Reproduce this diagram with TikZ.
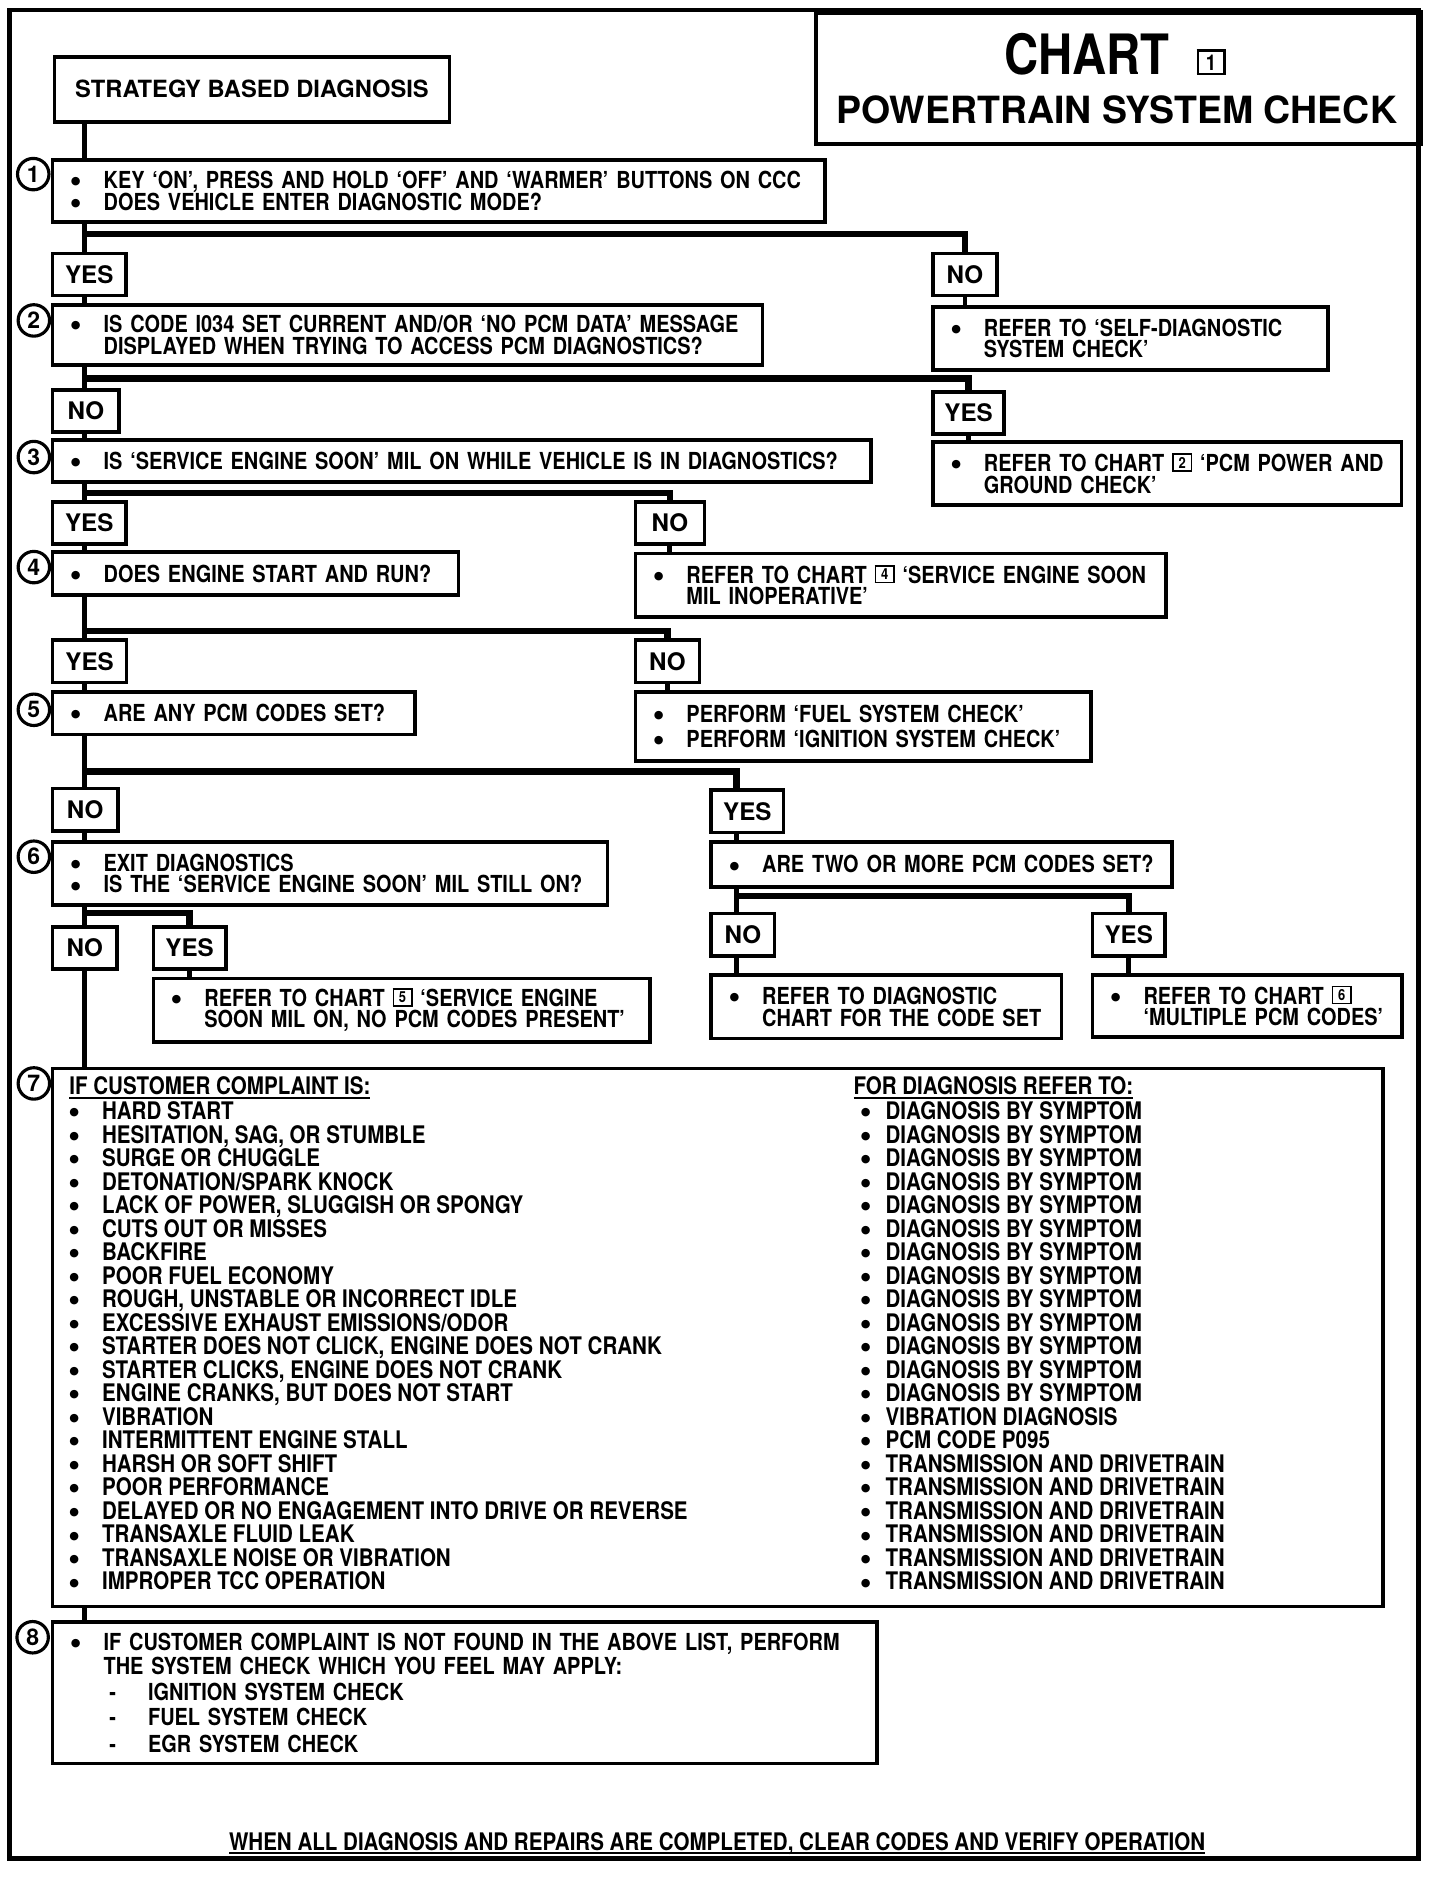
\documentclass[tikz,border=0pt]{standalone}
\usepackage{fontspec}
\setmainfont{TeX Gyre Heros}[FakeStretch=0.85]
\newfontfamily\widefont{TeX Gyre Heros}
\newfontfamily\symfont{DejaVu Sans}
\hyphenpenalty=10000
\exhyphenpenalty=10000
\newcommand\bdot{\raisebox{1.6pt}{\symfont\fontsize{4.6}{4.6}\selectfont ●}}
\newcommand\bul{\hspace*{2.6pt}\makebox[13.5pt][l]{\bdot}}
\newcommand\itm[1][13.5pt]{\makebox[#1][l]{\bdot}}
\newcommand\ind{\hspace*{16.1pt}}
\newcommand\dsh{\hspace*{18.5pt}\makebox[16pt][l]{-}}
\newcommand\chartno[1]{\raisebox{1.4pt}{\fboxsep=0.9pt\fboxrule=0.6pt\fbox{\makebox[5.3pt]{\fontsize{6.3}{6.3}\selectfont #1}}}}
\newcommand\titleno[1]{\raisebox{2pt}{\fboxsep=1.3pt\fboxrule=0.9pt\fbox{\makebox[7.6pt]{\fontsize{9}{9}\selectfont #1}}}}
\newcommand\ulin[1]{\sbox0{#1}\rlap{\rule[-1.8pt]{\wd0}{0.9pt}}\usebox0}
\usetikzlibrary{positioning}
\tikzset{
  every node/.style={font=\bfseries\fontsize{9.7}{9}\selectfont},
  stepbox/.style={draw, line width=1.5pt, inner xsep=5pt, inner ysep=0pt, anchor=north west, align=left},
  answer/.style={draw, line width=1.5pt, inner sep=0pt, minimum height=17.5pt, anchor=north west, font=\widefont\bfseries\fontsize{10}{10}\selectfont},
  stepno/.style={draw, circle, line width=1.3pt, inner sep=0pt, minimum size=13pt, font=\widefont\bfseries\fontsize{9.5}{9.5}\selectfont},
  listtext/.style={inner sep=0pt, anchor=north west, align=left, font=\bfseries\fontsize{10}{9.725}\selectfont},
  mainline/.style={line width=2pt},
  forkline/.style={line width=2.6pt}
}
\begin{document}
\begin{tikzpicture}[x=0.5pt,y=-0.5pt]
\useasboundingbox (0,0) rectangle (1191,1568);
\draw[line width=1.8pt] (8,8.5) rectangle (1173,1537);

\node[draw, line width=1.8pt, anchor=north west, minimum width=250pt, minimum height=54.3pt] (tbox) at (673,8.5) {};
\node[anchor=base, font=\bfseries\fontsize{23}{23}\selectfont] (chart) at (922,62) {CHART\hspace{11pt}\titleno{1}};
\node[anchor=base, font=\widefont\bfseries\fontsize{15.5}{15.5}\selectfont] (ptsc) at (923.5,102) {POWERTRAIN SYSTEM CHECK};

\node[stepbox, align=center, minimum width=163.2pt, minimum height=26.9pt, font=\widefont\bfseries\fontsize{9.8}{9.8}\selectfont] (sbd) at (43.7,45.5) {STRATEGY BASED DIAGNOSIS};

\node[stepbox, minimum width=319.4pt, text width=309.4pt, minimum height=25.5pt] (s1) at (42,131) {\bul KEY `ON', PRESS AND HOLD `OFF' AND `WARMER' BUTTONS ON~CCC\\\bul DOES VEHICLE ENTER DIAGNOSTIC MODE?};
\node[stepbox, minimum width=293.5pt, text width=283.5pt, minimum height=24.8pt] (s2) at (42,250.9) {\bul IS CODE I034 SET CURRENT AND/OR `NO PCM DATA'~MESSAGE\\\ind DISPLAYED WHEN TRYING TO ACCESS PCM DIAGNOSTICS?};
\node[stepbox, minimum width=338.4pt, text width=328.4pt, minimum height=17.25pt] (s3) at (42,362.5) {\bul IS `SERVICE ENGINE SOON' MIL ON WHILE VEHICLE IS IN~DIAGNOSTICS?};
\node[stepbox, minimum width=167.9pt, text width=157.9pt, minimum height=17.85pt] (s4) at (42,455) {\bul DOES ENGINE START AND~RUN?};
\node[stepbox, minimum width=149.85pt, text width=139.85pt, minimum height=17.65pt] (s5) at (42,570.7) {\bul ARE ANY PCM CODES SET?};
\node[stepbox, minimum width=229.5pt, text width=219.5pt, minimum height=26.15pt] (s6) at (42,694.7) {\bul EXIT DIAGNOSTICS\\\bul IS THE `SERVICE ENGINE SOON' MIL STILL~ON?};
\node[stepbox, minimum width=550.1pt, minimum height=222.5pt] (s7) at (42,882) {};
\node[stepbox, minimum width=341pt, text width=331pt, minimum height=58.65pt, font=\bfseries\fontsize{9.7}{8.3}\selectfont] (s8) at (42,1339.7) {\bul IF CUSTOMER COMPLAINT IS NOT FOUND IN THE ABOVE LIST,~PERFORM\\\ind THE SYSTEM CHECK WHICH YOU FEEL MAY APPLY:\\[2.7pt]\dsh IGNITION SYSTEM CHECK\\[2.05pt]\dsh FUEL SYSTEM CHECK\\[2.7pt]\dsh EGR SYSTEM CHECK};

\node[stepbox, minimum width=163.3pt, text width=153.3pt, minimum height=26.2pt] (r1) at (770,252.2) {\bul REFER TO `SELF-DIAGNOSTIC\\\ind SYSTEM CHECK'};
\node[stepbox, minimum width=193.7pt, text width=183.7pt, minimum height=26.2pt] (r2) at (770,363.9) {\bul REFER TO CHART \chartno{2} `PCM POWER~AND\\\ind GROUND CHECK'};
\node[stepbox, minimum width=219.5pt, text width=209.5pt, minimum height=26.15pt] (r3) at (524,456.3) {\bul REFER TO CHART \chartno{4} `SERVICE ENGINE~SOON\\\ind MIL INOPERATIVE'};
\node[stepbox, minimum width=188.5pt, text width=178.5pt, minimum height=28.65pt] (r4) at (524,570.7) {\bul PERFORM `FUEL SYSTEM CHECK'\\[1.25pt]\bul PERFORM `IGNITION SYSTEM CHECK'};
\node[stepbox, minimum width=190.45pt, text width=180.45pt, minimum height=18.65pt] (q6) at (586.6,694.7) {\bul ARE TWO OR MORE PCM CODES~SET?};
\node[stepbox, minimum width=205.35pt, text width=195.35pt, minimum height=26.15pt] (ch5) at (125.3,807.8) {\bul REFER TO CHART \chartno{5} `SERVICE ENGINE\\\ind SOON MIL ON, NO PCM CODES~PRESENT'};
\node[stepbox, minimum width=144.9pt, text width=134.9pt, minimum height=26.2pt] (dg) at (586.6,805) {\bul REFER TO DIAGNOSTIC\\\ind CHART FOR THE CODE~SET};
\node[stepbox, minimum width=128pt, text width=118pt, minimum height=25.5pt] (ch6) at (902,805) {\bul REFER TO CHART \chartno{6}\\\ind `MULTIPLE PCM~CODES'};

\node[answer, minimum width=30.3pt] (y1) at (42,208) {YES};
\node[answer, minimum width=26.5pt] (n1) at (770,208) {NO};
\node[answer, minimum width=27.5pt] (n2) at (42,321) {NO};
\node[answer, minimum width=29.5pt] (y2) at (770,322.5) {YES};
\node[answer, minimum width=30.3pt] (y3) at (42,413.5) {YES};
\node[answer, minimum width=28.5pt] (n3) at (524,413.5) {NO};
\node[answer, minimum width=30.6pt] (y4) at (42,528) {YES};
\node[answer, minimum width=26.5pt] (n4) at (524,528) {NO};
\node[answer, minimum width=27pt] (n5) at (42,650.6) {NO};
\node[answer, minimum width=30pt] (y5) at (586.6,652) {YES};
\node[answer, minimum width=26.6pt] (n6) at (42,765) {NO};
\node[answer, minimum width=30pt] (y6) at (125.3,765) {YES};
\node[answer, minimum width=26.2pt] (n7) at (586.6,754) {NO};
\node[answer, minimum width=30pt] (y7) at (902,754) {YES};

\node[stepno] (k1) at (27.5,144) {1};
\node[stepno] (k2) at (28,265) {2};
\node[stepno] (k3) at (28,378) {3};
\node[stepno] (k4) at (28,469) {4};
\node[stepno] (k5) at (28,587) {5};
\node[stepno] (k6) at (28,708.5) {6};
\node[stepno] (k7) at (28,896) {7};
\node[stepno] (k8) at (27,1354) {8};

\node[listtext] (complaint) at (57,889.8) {\ulin{IF CUSTOMER COMPLAINT IS:}\\[0.7pt]
\itm HARD START\\
\itm HESITATION, SAG, OR STUMBLE\\
\itm SURGE OR CHUGGLE\\
\itm DETONATION/SPARK KNOCK\\
\itm LACK OF POWER, SLUGGISH OR SPONGY\\
\itm CUTS OUT OR MISSES\\
\itm BACKFIRE\\
\itm POOR FUEL ECONOMY\\
\itm ROUGH, UNSTABLE OR INCORRECT IDLE\\
\itm EXCESSIVE EXHAUST EMISSIONS/ODOR\\
\itm STARTER DOES NOT CLICK, ENGINE DOES NOT CRANK\\
\itm STARTER CLICKS, ENGINE DOES NOT CRANK\\
\itm ENGINE CRANKS, BUT DOES NOT START\\
\itm VIBRATION\\
\itm INTERMITTENT ENGINE STALL\\
\itm HARSH OR SOFT SHIFT\\
\itm POOR PERFORMANCE\\
\itm DELAYED OR NO ENGAGEMENT INTO DRIVE OR REVERSE\\
\itm TRANSAXLE FLUID LEAK\\
\itm TRANSAXLE NOISE OR VIBRATION\\
\itm IMPROPER TCC OPERATION};
\node[listtext] (referto) at (705.5,889.8) {\ulin{FOR DIAGNOSIS REFER TO:}\\[0.7pt]
\hspace*{3pt}\itm[10.25pt]DIAGNOSIS BY SYMPTOM\\
\hspace*{3pt}\itm[10.25pt]DIAGNOSIS BY SYMPTOM\\
\hspace*{3pt}\itm[10.25pt]DIAGNOSIS BY SYMPTOM\\
\hspace*{3pt}\itm[10.25pt]DIAGNOSIS BY SYMPTOM\\
\hspace*{3pt}\itm[10.25pt]DIAGNOSIS BY SYMPTOM\\
\hspace*{3pt}\itm[10.25pt]DIAGNOSIS BY SYMPTOM\\
\hspace*{3pt}\itm[10.25pt]DIAGNOSIS BY SYMPTOM\\
\hspace*{3pt}\itm[10.25pt]DIAGNOSIS BY SYMPTOM\\
\hspace*{3pt}\itm[10.25pt]DIAGNOSIS BY SYMPTOM\\
\hspace*{3pt}\itm[10.25pt]DIAGNOSIS BY SYMPTOM\\
\hspace*{3pt}\itm[10.25pt]DIAGNOSIS BY SYMPTOM\\
\hspace*{3pt}\itm[10.25pt]DIAGNOSIS BY SYMPTOM\\
\hspace*{3pt}\itm[10.25pt]DIAGNOSIS BY SYMPTOM\\
\hspace*{3pt}\itm[10.25pt]VIBRATION DIAGNOSIS\\
\hspace*{3pt}\itm[10.25pt]PCM CODE P095\\
\hspace*{3pt}\itm[10.25pt]TRANSMISSION AND DRIVETRAIN\\
\hspace*{3pt}\itm[10.25pt]TRANSMISSION AND DRIVETRAIN\\
\hspace*{3pt}\itm[10.25pt]TRANSMISSION AND DRIVETRAIN\\
\hspace*{3pt}\itm[10.25pt]TRANSMISSION AND DRIVETRAIN\\
\hspace*{3pt}\itm[10.25pt]TRANSMISSION AND DRIVETRAIN\\
\hspace*{3pt}\itm[10.25pt]TRANSMISSION AND DRIVETRAIN};

\node[anchor=base west, inner sep=0pt, font=\bfseries\fontsize{10}{10}\selectfont] (verify) at (189,1530) {\ulin{WHEN ALL DIAGNOSIS AND REPAIRS ARE COMPLETED, CLEAR CODES AND VERIFY OPERATION}};

\coordinate (tr) at (70,0);
\coordinate (tq) at (609,0);
\coordinate (b1) at (70,193.5);
\coordinate (b2) at (70,313);
\coordinate (b3) at (70,408);
\coordinate (b4) at (70,522);
\coordinate (b5) at (70,638);
\coordinate (b6) at (70,755);
\coordinate (b7) at (609,741);

\draw[mainline] (sbd.south -| tr) -- (s1.north -| tr);
\draw[mainline] (s1.south -| tr) -- (y1.north -| tr);
\draw[mainline] (y1.south -| tr) -- (s2.north -| tr);
\draw[mainline] (s2.south -| tr) -- (n2.north -| tr);
\draw[mainline] (n2.south -| tr) -- (s3.north -| tr);
\draw[mainline] (s3.south -| tr) -- (y3.north -| tr);
\draw[mainline] (y3.south -| tr) -- (s4.north -| tr);
\draw[mainline] (s4.south -| tr) -- (y4.north -| tr);
\draw[mainline] (y4.south -| tr) -- (s5.north -| tr);
\draw[mainline] (s5.south -| tr) -- (n5.north -| tr);
\draw[mainline] (n5.south -| tr) -- (s6.north -| tr);
\draw[mainline] (s6.south -| tr) -- (n6.north -| tr);
\draw[mainline] (n6.south -| tr) -- (s7.north -| tr);
\draw[mainline] (s7.south -| tr) -- (s8.north -| tr);

\draw[forkline] (b1) -| (n1.north);
\draw[forkline] (b2) -| (y2.north);
\draw[forkline] (b3) -| (n3.north);
\draw[forkline] (b4) -| (n4.north);
\draw[forkline] (b5) -| (y5.north -| tq);
\draw[forkline] (b6) -| (y6.north);
\draw[forkline] (b7) -| (y7.north);

\draw[mainline] (n1.south) -- (n1.south |- r1.north);
\draw[mainline] (y2.south) -- (y2.south |- r2.north);
\draw[mainline] (n3.south) -- (n3.south |- r3.north);
\draw[mainline] (n4.south) -- (n4.south |- r4.north);
\draw[mainline] (y5.south -| tq) -- (q6.north -| tq);
\draw[mainline] (q6.south -| tq) -- (n7.north -| tq);
\draw[mainline] (n7.south -| tq) -- (dg.north -| tq);
\draw[mainline] (y6.south) -- (y6.south |- ch5.north);
\draw[mainline] (y7.south) -- (y7.south |- ch6.north);
\end{tikzpicture}
\end{document}
